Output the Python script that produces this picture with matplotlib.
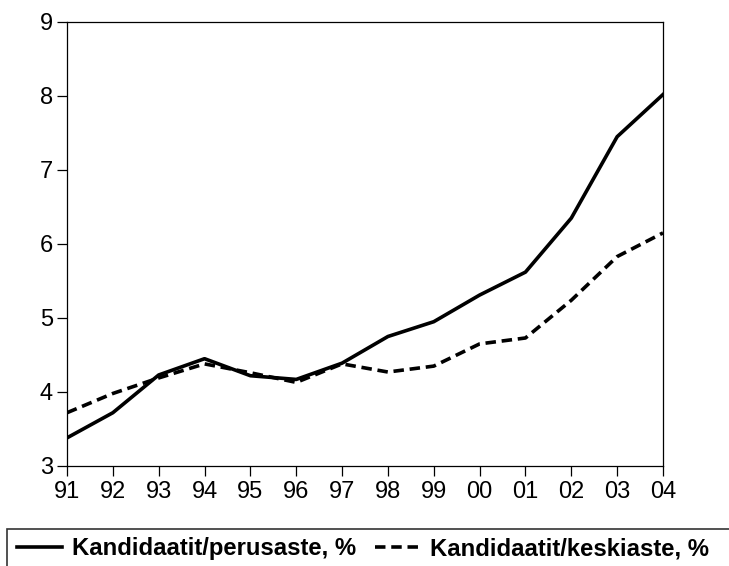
import matplotlib
matplotlib.use('Agg')
import matplotlib.pyplot as plt
from matplotlib.patches import Rectangle

# Dati
anni = ['91', '92', '93', '94', '95', '96', '97', '98', '99', '00', '01', '02', '03', '04']
perusaste = [3.38, 3.72, 4.23, 4.45, 4.22, 4.17, 4.39, 4.75, 4.95, 5.31, 5.62, 6.35, 7.45, 8.02]
keskiaste = [3.72, 3.98, 4.19, 4.38, 4.26, 4.13, 4.38, 4.27, 4.35, 4.65, 4.73, 5.24, 5.83, 6.15]
nomi = ['Kandidaatit/perusaste, %', 'Kandidaatit/keskiaste, %']

plt.rcParams['font.family'] = ['Liberation Sans', 'DejaVu Sans']

fig = plt.figure(figsize=(7.29, 5.66), dpi=100)
ax = fig.add_axes([67 / 729, 1 - 466 / 566, (663 - 67) / 729, (466 - 22) / 566])

x = list(range(len(anni)))
l1, = ax.plot(x, perusaste, color='black', lw=2.6)
l2, = ax.plot(x, keskiaste, color='black', lw=2.6, linestyle=(0, (2.9, 1.6)))

ax.set_xlim(0, len(anni) - 1)
ax.set_ylim(3, 9)
ax.set_xticks(x)
ax.set_xticklabels(anni)
ax.set_yticks(range(3, 10))
ax.tick_params(axis='both', labelsize=17, direction='out', length=7, width=0.9)
ax.tick_params(axis='x', pad=4)
ax.tick_params(axis='y', pad=3)
for s in ax.spines.values():
    s.set_linewidth(0.9)

# Riquadro della legenda (esce dal bordo della figura)
fig.patches.append(Rectangle((7 / 729, -0.1), 1.1, 0.1 + 1 - 529 / 566,
                             transform=fig.transFigure, fill=False,
                             edgecolor='#333333', lw=1.2))
leg = fig.legend([l1, l2], nomi, loc='center left', ncol=2,
                 bbox_to_anchor=(17 / 729, 1 - 549 / 566), frameon=False,
                 prop={'weight': 'bold', 'size': 17.2}, handlelength=1.9,
                 handletextpad=0.4, columnspacing=0.8, borderpad=0, borderaxespad=0)

fig.savefig('out.png', dpi=100)
